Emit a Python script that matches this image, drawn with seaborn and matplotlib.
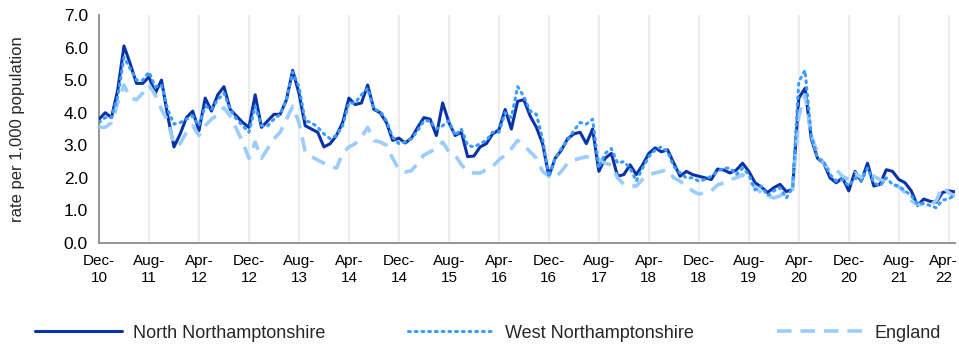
import matplotlib
matplotlib.use("Agg")
import matplotlib.pyplot as plt
import matplotlib.transforms as mtransforms
import numpy as np
import pandas as pd
import seaborn as sns

# monthly rates, Dec-10 .. May-22
north = [3.8, 4.0, 3.85, 4.7, 6.05, 5.5, 4.9, 4.9, 5.1, 4.6,
         5.0, 3.9, 2.95, 3.35, 3.85, 4.05, 3.45, 4.45, 4.05, 4.55,
         4.8, 4.1, 3.9, 3.7, 3.55, 4.55, 3.55, 3.75, 3.95, 3.95,
         4.4, 5.3, 4.6, 3.6, 3.5, 3.4, 2.95, 3.05, 3.3, 3.7,
         4.45, 4.25, 4.3, 4.85, 4.1, 4.0, 3.7, 3.15, 3.22, 3.07,
         3.22, 3.55, 3.85, 3.8, 3.3, 4.3, 3.7, 3.3, 3.4, 2.65,
         2.67, 2.95, 3.05, 3.35, 3.47, 4.1, 3.5, 4.35, 4.4, 3.9,
         3.55, 3.05, 2.05, 2.6, 2.85, 3.2, 3.35, 3.4, 3.05, 3.5,
         2.2, 2.6, 2.75, 2.05, 2.1, 2.4, 2.1, 2.4, 2.75, 2.92,
         2.8, 2.86, 2.45, 2.05, 2.2, 2.1, 2.05, 2.0, 1.95, 2.27,
         2.24, 2.15, 2.24, 2.45, 2.2, 1.85, 1.72, 1.55, 1.7, 1.8,
         1.58, 1.65, 4.45, 4.75, 3.2, 2.6, 2.45, 2.0, 1.85, 2.0,
         1.6, 2.2, 1.9, 2.45, 1.75, 1.8, 2.25, 2.2, 1.95, 1.85,
         1.6, 1.15, 1.35, 1.28, 1.25, 1.55, 1.6, 1.57]

west = [3.7, 3.85, 3.85, 4.5, 5.7, 5.35, 5.0, 5.0, 5.25, 4.8,
        4.85, 4.1, 3.65, 3.7, 3.8, 3.9, 3.6, 4.2, 4.1, 4.4,
        4.6, 4.1, 3.8, 3.6, 3.4, 4.2, 3.6, 3.6, 3.8, 3.95,
        4.4, 5.25, 4.8, 3.75, 3.7, 3.55, 3.35, 3.2, 3.3, 3.6,
        4.3, 4.3, 4.55, 4.75, 4.1, 4.05, 3.75, 3.25, 3.05, 3.1,
        3.2, 3.45, 3.75, 3.75, 3.5, 3.6, 3.75, 3.3, 3.5, 3.0,
        2.95, 3.05, 3.15, 3.4, 3.4, 4.0, 3.85, 4.8, 4.5, 4.05,
        3.95, 3.2, 2.03, 2.6, 2.9, 3.15, 3.45, 3.7, 3.65, 3.8,
        2.3, 2.75, 2.9, 2.45, 2.5, 2.3, 1.9, 2.3, 2.65, 2.85,
        2.95, 2.8, 2.35, 2.15, 2.0, 2.0, 1.9, 1.95, 2.05, 2.2,
        2.3, 2.3, 2.1, 2.3, 2.1, 1.63, 1.75, 1.45, 1.6, 1.7,
        1.38, 1.7, 4.95, 5.3, 3.3, 2.6, 2.5, 2.1, 1.9, 1.95,
        1.75, 2.0, 1.9, 2.3, 1.85, 1.75, 2.0, 1.8, 1.75, 1.6,
        1.45, 1.2, 1.22, 1.15, 1.08, 1.32, 1.35, 1.48]

england = [3.55, 3.55, 3.7, 4.3, 4.85, 4.45, 4.4, 4.6, 4.85, 4.55,
           4.1, 3.75, 3.0, 3.05, 3.4, 3.6, 3.3, 3.6, 3.8, 3.95,
           4.15, 3.9, 3.5, 3.1, 2.6, 3.1, 2.6, 2.9, 3.2, 3.4,
           3.8, 4.2, 3.7, 2.8, 2.65, 2.55, 2.45, 2.35, 2.3, 2.75,
           2.95, 3.05, 3.25, 3.55, 3.15, 3.1, 3.0, 2.6, 2.25, 2.18,
           2.22, 2.45, 2.7, 2.8, 2.9, 3.1, 2.8, 2.7, 2.4, 2.2,
           2.15, 2.15, 2.25, 2.35, 2.55, 2.7, 2.9, 3.15, 3.0, 2.8,
           2.6, 2.2, 2.05, 2.0, 2.2, 2.45, 2.55, 2.6, 2.65, 2.6,
           2.55, 2.45, 2.4, 2.0, 1.8, 1.75, 1.75, 1.95, 2.1, 2.15,
           2.2, 2.25, 2.0, 1.9, 1.75, 1.6, 1.5, 1.55, 1.6, 1.78,
           1.85, 1.95, 2.0, 2.1, 1.95, 1.7, 1.55, 1.45, 1.38, 1.45,
           1.6, 1.65, 3.9, 4.55, 3.3, 2.75, 2.45, 2.2, 2.25, 2.05,
           1.95, 2.15, 2.0, 2.2, 2.05, 1.95, 1.88, 1.8, 1.72, 1.55,
           1.3, 1.18, 1.18, 1.15, 1.3, 1.72, 1.55, 1.42]

tick_labels = ["Dec-\n10", "Aug-\n11", "Apr-\n12", "Dec-\n12", "Aug-\n13", "Apr-\n14",
               "Dec-\n14", "Aug-\n15", "Apr-\n16", "Dec-\n16", "Aug-\n17", "Apr-\n18",
               "Dec-\n18", "Aug-\n19", "Apr-\n20", "Dec-\n20", "Aug-\n21", "Apr-\n22"]

months = np.arange(len(north))
df = pd.DataFrame({"month": months, "North Northamptonshire": north,
                   "West Northamptonshire": west, "England": england})

sns.set_style("white")
plt.rcParams["font.family"] = ["Liberation Sans", "DejaVu Sans"]

fig = plt.figure(figsize=(9.59, 3.49), dpi=100)
ax = fig.add_axes([99 / 959, 1 - 243 / 349, 856 / 959, 228 / 349])

sns.lineplot(data=df, x="month", y="North Northamptonshire", ax=ax, color="#0a32a8",
             lw=2.2, label="North Northamptonshire", zorder=3)
sns.lineplot(data=df, x="month", y="England", ax=ax, color="#99ccff",
             lw=2.6, label="England", zorder=3)
ax.lines[-1].set_dashes([4, 2.5])
sns.lineplot(data=df, x="month", y="West Northamptonshire", ax=ax, color="#3d9bff",
             lw=2.2, label="West Northamptonshire", zorder=4)
ax.lines[-1].set_linestyle((0, (0.6, 1.6)))
ax.lines[-1].set_dash_capstyle("round")

ax.set_xlim(0, len(north) - 1)
ax.set_ylim(0, 7)
ax.set_yticks(np.arange(0, 7.01, 1.0))
ax.set_yticklabels([f"{v:.1f}" for v in np.arange(0, 7.01, 1.0)], fontsize=12.5)
ax.set_xticks(np.arange(0, 137, 8))
ax.set_xticklabels(tick_labels, fontsize=11, linespacing=1.25)
ax.set_xlabel("")
ax.set_ylabel("rate per 1,000 population", fontsize=12, labelpad=28)

ax.grid(axis="x", color="#ebebeb", lw=1.3)
ax.grid(axis="y", visible=False)
for s in ["top", "right"]:
    ax.spines[s].set_visible(False)
for s in ["left", "bottom"]:
    ax.spines[s].set_color("#8c8c8c")
    ax.spines[s].set_linewidth(1.3)
ax.tick_params(axis="both", direction="out", length=5, width=1.1, pad=3)
ax.tick_params(axis="x", colors="#8c8c8c", labelcolor="black")
ax.tick_params(axis="y", colors="#8c8c8c", labelcolor="black")

# keep the last tick label inside the figure (after tick_params, which resets transforms)
last = ax.get_xticklabels()[-1]
last.set_transform(last.get_transform() + mtransforms.ScaledTranslation(-5 / 100, 0, fig.dpi_scale_trans))

ax.get_legend().remove()
handles, labels = ax.get_legend_handles_labels()
order = [labels.index(n) for n in ["North Northamptonshire", "West Northamptonshire", "England"]]
fig.legend([handles[i] for i in order], [labels[i] for i in order],
           loc="lower left", bbox_to_anchor=(28 / 959, 0.0, 920 / 959, 0.09),
           mode="expand", ncol=3, frameon=False, fontsize=13, handlelength=4.8,
           handletextpad=0.6, borderaxespad=0)

fig.savefig("out.png", dpi=100)
